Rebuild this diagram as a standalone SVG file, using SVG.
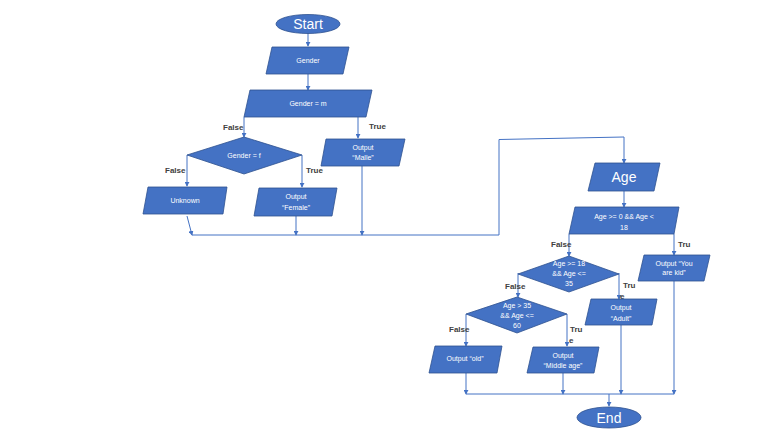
<svg xmlns="http://www.w3.org/2000/svg" width="768" height="433" viewBox="0 0 768 433">
<style>
.s{fill:#4472C4;stroke:#2F528F;stroke-width:0.8}
.t{fill:#fff;font-family:"Liberation Sans",Arial,sans-serif;font-size:7px;text-anchor:middle}
.big{font-size:14px}
.l{fill:#404040;font-family:"Liberation Sans",Arial,sans-serif;font-size:8px;font-weight:bold}
.c{fill:none;stroke:#4472C4;stroke-width:1}
</style>
<defs>
<marker id="a" viewBox="0 0 6 6" refX="5" refY="3" markerWidth="5" markerHeight="5" orient="auto" markerUnits="userSpaceOnUse">
<path d="M0,0 L6,3 L0,6 z" fill="#4472C4"/>
</marker>
</defs>
<rect width="768" height="433" fill="#fff"/>
<g id="connectors">
<path class="c" d="M308,33 V46" marker-end="url(#a)"/>
<path class="c" d="M308,74 V90" marker-end="url(#a)"/>
<path class="c" d="M244,117 V137" marker-end="url(#a)"/>
<path class="c" d="M358,117 V138" marker-end="url(#a)"/>
<path class="c" d="M187,155 V186" marker-end="url(#a)"/>
<path class="c" d="M302,155 V187" marker-end="url(#a)"/>
<path class="c" d="M187,216 L192,235" marker-end="url(#a)"/>
<path class="c" d="M296,216 V235" marker-end="url(#a)"/>
<path class="c" d="M362,166 V235" marker-end="url(#a)"/>
<path class="c" d="M192,235 H499 V139.5 L624,137 V163" marker-end="url(#a)"/>
<path class="c" d="M624,191 V207" marker-end="url(#a)"/>
<path class="c" d="M569,234 V256" marker-end="url(#a)"/>
<path class="c" d="M674,234 V255" marker-end="url(#a)"/>
<path class="c" d="M518,273 V297" marker-end="url(#a)"/>
<path class="c" d="M619,273 V299" marker-end="url(#a)"/>
<path class="c" d="M466,314 V346" marker-end="url(#a)"/>
<path class="c" d="M567,314 V346" marker-end="url(#a)"/>
<path class="c" d="M466,373 V394" marker-end="url(#a)"/>
<path class="c" d="M563,373 V394" marker-end="url(#a)"/>
<path class="c" d="M621,325 V394" marker-end="url(#a)"/>
<path class="c" d="M674,281 V394" marker-end="url(#a)"/>
<path class="c" d="M466,394 H674"/>
<path class="c" d="M609,394 V406" marker-end="url(#a)"/>
<text class="l" x="223" y="130">False</text>
<text class="l" x="369" y="129">True</text>
<text class="l" x="165" y="173">False</text>
<text class="l" x="306" y="173">True</text>
<text class="l" x="551" y="247">False</text>
<text class="l" x="678" y="247">Tru</text>
<text class="l" x="505" y="289">False</text>
<text class="l" x="623" y="288">Tru</text>
<text class="l" x="620" y="299">e</text>
<text class="l" x="449" y="332">False</text>
<text class="l" x="570" y="332">Tru</text>
<text class="l" x="569" y="343">e</text>
</g>
<g id="start"><ellipse class="s" cx="308" cy="24" rx="32" ry="9.5"/><text class="t big" x="308" y="29">Start</text></g>
<g id="gender"><polygon class="s" points="272,47 349,47 343,74 266,74"/><text class="t" x="308" y="63">Gender</text></g>
<g id="gender-m"><polygon class="s" points="250,90 372,90 366,117 244,117"/><text class="t" x="308" y="106">Gender = m</text></g>
<g id="gender-f"><polygon class="s" points="244,137 302,155 244,174 187,155"/><text class="t" x="244" y="158">Gender = f</text></g>
<g id="out-malle"><polygon class="s" points="326,139 405,139 399,166 321,166"/><text class="t" x="363" y="150">Output</text><text class="t" x="363" y="160">“Malle”</text></g>
<g id="unknown"><polygon class="s" points="148,187 227,187 223,214 143,214"/><text class="t" x="185" y="203">Unknown</text></g>
<g id="out-female"><polygon class="s" points="259,188 337,188 332,216 254,216"/><text class="t" x="296" y="199">Output</text><text class="t" x="296" y="210">“Female”</text></g>
<g id="age"><polygon class="s" points="595,163 660,163 654,191 588,191"/><text class="t big" x="624" y="182">Age</text></g>
<g id="age-0-18"><polygon class="s" points="575,207 679,207 674,234 569,234"/><text class="t" x="624" y="219">Age &gt;= 0 &amp;&amp; Age &lt;</text><text class="t" x="624" y="230">18</text></g>
<g id="age-18-35"><polygon class="s" points="569,256 619,274 569,292 518,274"/><text class="t" x="569" y="266">Age &gt;= 18</text><text class="t" x="569" y="276">&amp;&amp; Age &lt;=</text><text class="t" x="569" y="286">35</text></g>
<g id="out-kid"><polygon class="s" points="644,255 710,255 704,281 638,281"/><text class="t" x="674" y="266">Output “You</text><text class="t" x="674" y="275">are kid”</text></g>
<g id="out-adult"><polygon class="s" points="591,299 657,299 652,325 585,325"/><text class="t" x="621" y="310">Output</text><text class="t" x="621" y="321">“Adult”</text></g>
<g id="age-35-60"><polygon class="s" points="517,297 567,314 517,333 466,314"/><text class="t" x="517" y="308">Age &gt; 35</text><text class="t" x="517" y="318">&amp;&amp; Age &lt;=</text><text class="t" x="517" y="328">60</text></g>
<g id="out-old"><polygon class="s" points="435,346 502,346 497,373 429,373"/><text class="t" x="465" y="361">Output “old”</text></g>
<g id="out-middle"><polygon class="s" points="533,347 599,347 594,373 527,373"/><text class="t" x="563" y="358">Output</text><text class="t" x="563" y="368">“Middle age”</text></g>
<g id="end"><ellipse class="s" cx="609" cy="417.5" rx="32" ry="10.5"/><text class="t big" x="609" y="423">End</text></g>
</svg>
